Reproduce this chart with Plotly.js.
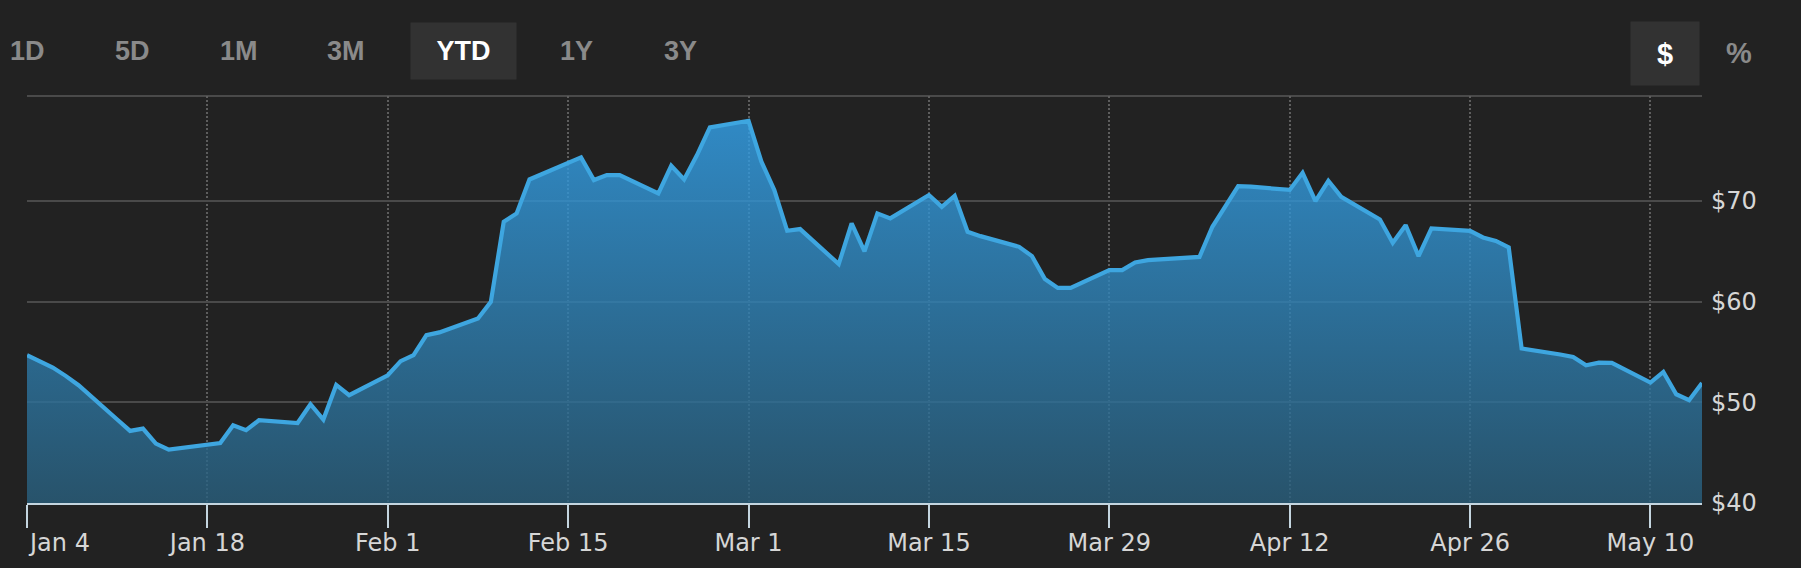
<!DOCTYPE html>
<html>
<head>
<meta charset="utf-8">
<script src="https://cdn.plot.ly/plotly-3.0.1.min.js"></script>
<style>
  html, body { margin: 0; padding: 0; background: #222222; }
  #chart { width: 1801px; height: 568px; }
</style>
</head>
<body>
<div id="chart"></div>
<script>
// ---- data ----
const dates = [
  '2021-01-04','2021-01-05','2021-01-06','2021-01-07','2021-01-08',
  '2021-01-11','2021-01-12','2021-01-13','2021-01-14','2021-01-15',
  '2021-01-19','2021-01-20','2021-01-21','2021-01-22',
  '2021-01-25','2021-01-26','2021-01-27','2021-01-28','2021-01-29',
  '2021-02-01','2021-02-02','2021-02-03','2021-02-04','2021-02-05',
  '2021-02-08','2021-02-09','2021-02-10','2021-02-11','2021-02-12',
  '2021-02-16','2021-02-17','2021-02-18','2021-02-19',
  '2021-02-22','2021-02-23','2021-02-24','2021-02-25','2021-02-26',
  '2021-03-01','2021-03-02','2021-03-03','2021-03-04','2021-03-05',
  '2021-03-08','2021-03-09','2021-03-10','2021-03-11','2021-03-12',
  '2021-03-15','2021-03-16','2021-03-17','2021-03-18','2021-03-19',
  '2021-03-22','2021-03-23','2021-03-24','2021-03-25','2021-03-26',
  '2021-03-29','2021-03-30','2021-03-31','2021-04-01',
  '2021-04-05','2021-04-06','2021-04-07','2021-04-08','2021-04-09',
  '2021-04-12','2021-04-13','2021-04-14','2021-04-15','2021-04-16',
  '2021-04-19','2021-04-20','2021-04-21','2021-04-22','2021-04-23',
  '2021-04-26','2021-04-27','2021-04-28','2021-04-29','2021-04-30',
  '2021-05-03','2021-05-04','2021-05-05','2021-05-06','2021-05-07',
  '2021-05-10','2021-05-11','2021-05-12','2021-05-13','2021-05-14'
];
const prices = [
  54.68, 54.09, 53.46, 52.63, 51.70,
  48.30, 47.16, 47.39, 45.90, 45.31,
  45.96, 47.72, 47.23, 48.22,
  47.95, 49.81, 48.29, 51.73, 50.71,
  52.69, 54.09, 54.68, 56.67, 56.95,
  58.33, 59.98, 67.93, 68.76, 72.14,
  74.33, 72.08, 72.57, 72.57,
  70.75, 73.50, 72.14, 74.56, 77.31,
  77.97, 73.90, 71.08, 67.04, 67.21,
  63.73, 67.77, 65.00, 68.77, 68.27,
  70.59, 69.42, 70.52, 66.94, 66.51,
  65.45, 64.52, 62.24, 61.37, 61.37,
  63.13, 63.13, 63.89, 64.12,
  64.45, 67.44, 69.49, 71.48, 71.42,
  71.10, 72.80, 69.99, 72.01, 70.42,
  68.17, 65.85, 67.60, 64.52, 67.27,
  67.04, 66.38, 66.04, 65.39, 55.35,
  54.75, 54.51, 53.69, 53.95, 53.92,
  51.97, 53.02, 50.80, 50.21, 51.93
];
const xTickVals = ['2021-01-04','2021-01-18','2021-02-01','2021-02-15','2021-03-01',
                   '2021-03-15','2021-03-29','2021-04-12','2021-04-26','2021-05-10'];
const xTickText = ['Jan 4','Jan 18','Feb 1','Feb 15','Mar 1','Mar 15','Mar 29','Apr 12','Apr 26','May 10'];
const yTickVals = [40, 50, 60, 70];
const yTickText = ['$40', '$50', '$60', '$70'];
const rangeButtons = ['1D','5D','1M','3M','YTD','1Y','3Y'];
const activeRange = 'YTD';
const unitButtons = ['$','%'];
const activeUnit = '$';

// ---- layout geometry (pixels) ----
const W = 1801, H = 568;
const M = {l: 27, r: 99, t: 96, b: 65};
const PW = W - M.l - M.r, PH = H - M.t - M.b;
const px = x => (x - M.l) / PW;
const py = y => (M.t + PH - y) / PH;

const rangeBtnX = [27, 132, 239, 346, 463, 576, 680];
const unitBtnX = [1665, 1739];

const annotations = [];
rangeButtons.forEach((b, i) => {
  const active = b === activeRange;
  const a = {
    xref: 'paper', yref: 'paper', x: px(rangeBtnX[i]), y: py(50.5),
    xanchor: 'center', yanchor: 'middle', showarrow: false, text: b,
    font: {family: 'Liberation Sans, Arial, sans-serif', size: 27, weight: 700,
           color: active ? '#ffffff' : '#8a8a8a'}
  };
  if (active) { a.bgcolor = '#323232'; a.width = 105; a.height = 56; a.borderpad = 0; }
  annotations.push(a);
});
unitButtons.forEach((b, i) => {
  const active = b === activeUnit;
  const a = {
    xref: 'paper', yref: 'paper', x: px(unitBtnX[i]), y: py(active ? 53.5 : 53),
    xanchor: 'center', yanchor: 'middle', showarrow: false, text: b,
    font: {family: 'Liberation Sans, Arial, sans-serif', size: 29, weight: 700,
           color: active ? '#ffffff' : '#8a8a8a'}
  };
  if (active) { a.bgcolor = '#323232'; a.width = 68; a.height = 63; a.borderpad = 0; }
  annotations.push(a);
});
// first x label sits inside the plot edge (left-aligned at its tick)
annotations.push({
  xref: 'x', yref: 'paper', x: xTickVals[0], y: py(543), xanchor: 'left', xshift: -1,
  yanchor: 'middle', showarrow: false, text: xTickText[0],
  font: {family: 'DejaVu Sans, sans-serif', size: 24, color: '#d6d6d6'}
});

const trace = {
  x: dates, y: prices, type: 'scatter', mode: 'lines',
  line: {color: '#3ea6e0', width: 4.2, shape: 'linear'},
  fill: 'tozeroy',
  fillgradient: {
    type: 'vertical', start: 40, stop: 79,
    colorscale: [[0, 'rgba(41,95,125,0.8)'], [1, 'rgba(52,165,240,0.8)']]
  },
  hoverinfo: 'skip'
};

const layout = {
  width: W, height: H,
  margin: M,
  paper_bgcolor: '#222222', plot_bgcolor: '#222222',
  showlegend: false,
  font: {family: 'DejaVu Sans, sans-serif', size: 24, color: '#d6d6d6'},
  xaxis: {
    type: 'date', range: ['2021-01-04', '2021-05-14'],
    tickvals: xTickVals, ticktext: xTickText.map((t, i) => i === 0 ? '' : t),
    ticks: 'outside', ticklen: 23, tickwidth: 2, tickcolor: '#c4d5df',
    ticklabelstandoff: -6,
    showline: true, linecolor: '#c4d5df', linewidth: 2,
    showgrid: true, gridcolor: '#5e5e5e', gridwidth: 2, griddash: '2px,2px',
    zeroline: false, layer: 'above traces', fixedrange: true,
    tickfont: {family: 'DejaVu Sans, sans-serif', size: 24, color: '#d6d6d6'}
  },
  yaxis: {
    side: 'right', range: [40, 80.43],
    tickmode: 'array', tickvals: yTickVals, ticktext: yTickText, ticks: '',
    ticklabelstandoff: 8,
    showline: false, showgrid: true, gridcolor: '#4a4a4a', gridwidth: 2,
    zeroline: false, fixedrange: true,
    tickfont: {family: 'DejaVu Sans, sans-serif', size: 24, color: '#d6d6d6'}
  },
  shapes: [{
    type: 'line', xref: 'paper', yref: 'paper', x0: 0, x1: 1, y0: 1, y1: 1,
    line: {color: '#4a4a4a', width: 2}, layer: 'below'
  }],
  annotations: annotations
};

Plotly.newPlot('chart', [trace], layout, {displayModeBar: false, staticPlot: true});
</script>
</body>
</html>
